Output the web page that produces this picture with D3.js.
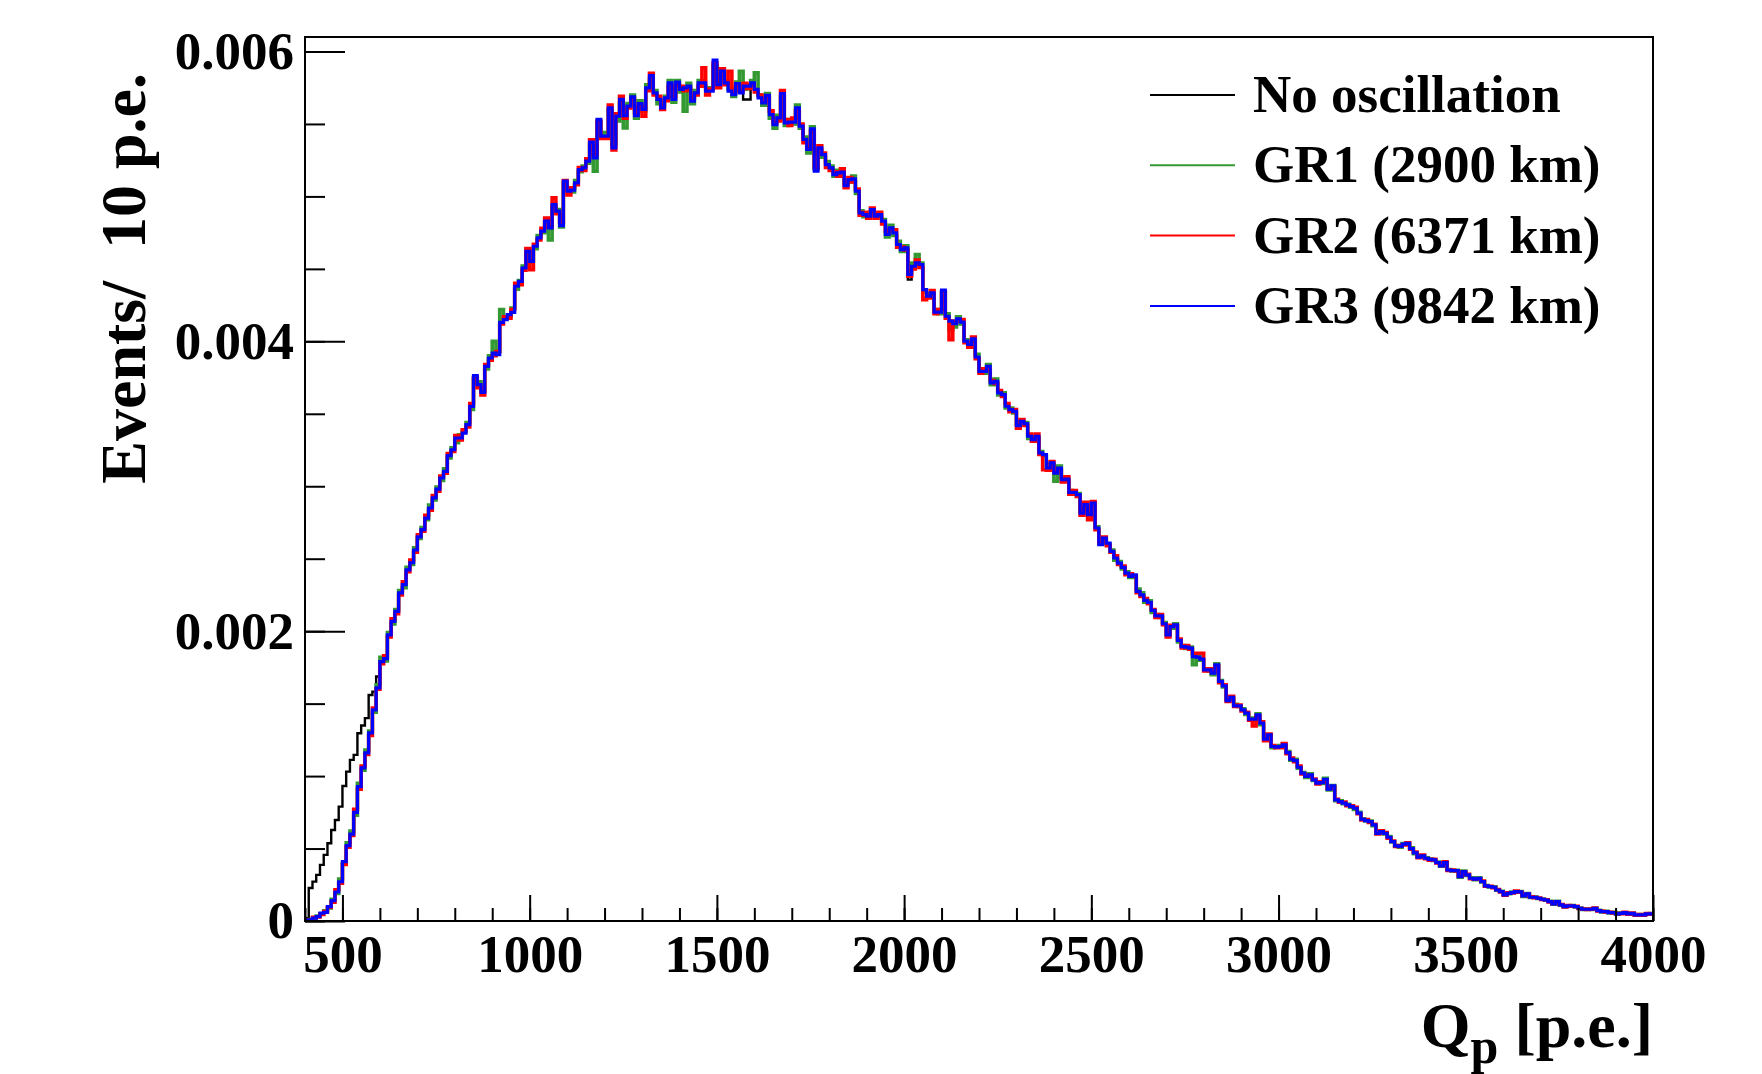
<!DOCTYPE html>
<html>
<head>
<meta charset="utf-8">
<script src="https://cdn.jsdelivr.net/npm/d3@7"></script>
<style>
  body { margin: 0; background: #fff; }
  text { font-family: "Liberation Serif", "Times New Roman", serif; font-weight: bold; fill: #000; }
</style>
</head>
<body>
<div id="chart"></div>
<script>
// histogram binning: 360 bins of 10 p.e. from 400 to 4000
const binLow = 400;
const binWidth = 10;
// bin contents in units of 1e-6 events / 10 p.e.
const unit = 1e-6;

const noOsc = [
  20,228,272,318,387,456,536,628,697,789,932,1031,1112,1146,1296,1349,1400,1560,1583,1687,
  1795,1815,1980,2060,2140,2270,2315,2430,2465,2565,2645,2710,2775,2860,2915,2985,3050,3110,3205,3258,
  3340,3325,3375,3420,3545,3755,3710,3655,3820,3880,3915,3915,4125,4160,4180,4210,4375,4420,4500,4615,
  4545,4660,4720,4755,4835,4775,4950,4890,4805,5100,5040,5050,5085,5190,5190,5250,5365,5275,5525,5420,
  5420,5605,5340,5545,5660,5550,5630,5680,5565,5645,5605,5740,5825,5720,5660,5620,5685,5775,5675,5780,
  5745,5740,5755,5665,5710,5775,5780,5720,5735,5930,5765,5860,5790,5730,5700,5770,5720,5669,5669,5775,
  5730,5690,5650,5690,5560,5500,5530,5700,5515,5505,5500,5600,5490,5400,5320,5460,5180,5330,5280,5215,
  5190,5150,5160,5160,5080,5110,5120,5030,4880,4870,4860,4900,4860,4870,4820,4740,4775,4740,4660,4625,
  4640,4426,4510,4530,4520,4350,4305,4330,4195,4195,4345,4170,4130,4115,4150,4125,3995,3960,4010,3885,
  3790,3785,3825,3705,3720,3640,3630,3545,3520,3515,3410,3445,3425,3340,3315,3340,3225,3210,3120,3155,
  3085,3120,3040,3045,2950,2955,2935,2810,2865,2800,2880,2705,2600,2640,2600,2545,2500,2465,2435,2395,
  2375,2385,2270,2245,2205,2195,2140,2100,2100,2050,1970,2030,2040,1930,1890,1885,1880,1820,1815,1800,
  1730,1735,1705,1765,1650,1620,1520,1540,1488,1483,1455,1430,1390,1390,1420,1360,1250,1282,1200,1198,
  1200,1212,1160,1112,1105,1060,1018,995,1005,972,950,953,975,907,930,833,822,811,799,788,
  775,745,700,695,684,662,604,615,604,576,547,517,515,528,534,499,471,441,449,432,
  424,421,402,381,404,351,347,348,305,340,317,294,289,294,272,241,236,232,214,202,
  181,190,197,202,200,172,186,165,163,156,150,144,133,119,133,112,98,104,104,98,
  88,81,81,81,88,72,65,65,58,58,49,53,58,49,53,42,42,42,49,49
];

const gr1 = [
  3,10,18,35,50,70,90,150,190,290,400,540,620,730,950,1040,1180,1310,1440,1630,
  1820,1795,1990,2050,2150,2280,2300,2440,2460,2575,2640,2715,2770,2870,2905,2995,3040,3120,3195,3265,
  3300,3355,3380,3440,3530,3740,3720,3660,3810,3900,4000,3930,4220,4160,4170,4230,4360,4420,4520,4600,
  4560,4640,4730,4750,4820,4700,4930,4910,4790,5090,5050,5030,5110,5170,5210,5230,5360,5174,5510,5440,
  5430,5600,5360,5520,5640,5473,5640,5700,5540,5660,5590,5770,5810,5730,5640,5630,5690,5800,5650,5800,
  5720,5588,5780,5640,5730,5800,5760,5740,5750,5900,5790,5850,5800,5740,5690,5790,5864,5740,5770,5800,
  5853,5700,5630,5710,5540,5470,5560,5690,5490,5530,5500,5630,5470,5410,5300,5480,5190,5320,5270,5240,
  5210,5140,5180,5150,5090,5100,5140,5020,4900,4860,4880,4890,4880,4860,4840,4720,4800,4730,4690,4620,
  4660,4480,4540,4599,4540,4340,4330,4320,4220,4190,4340,4190,4081,4100,4170,4120,4010,3990,4000,3910,
  3810,3780,3840,3700,3740,3630,3645,3540,3540,3505,3430,3440,3440,3330,3340,3330,3240,3210,3140,3150,
  3034,3140,3060,3040,2970,2945,2950,2830,2860,2810,2870,2720,2610,2630,2600,2560,2490,2480,2430,2410,
  2370,2380,2290,2265,2200,2210,2130,2115,2095,2060,1980,2020,2050,1925,1900,1880,1890,1768,1830,1800,
  1740,1725,1700,1775,1660,1615,1530,1535,1495,1480,1465,1425,1400,1385,1430,1355,1260,1280,1195,1205,
  1210,1205,1170,1110,1115,1055,1025,990,1015,970,955,950,985,905,935,830,830,810,805,785,
  770,750,705,690,690,658,610,612,600,582,545,520,510,535,530,505,465,445,445,436,
  428,418,406,378,400,355,345,350,303,344,314,298,285,298,270,245,235,236,212,205,
  183,188,199,200,203,170,190,162,166,155,152,143,136,116,136,109,101,102,106,97,
  90,79,83,79,86,74,63,67,56,60,47,55,56,51,51,44,40,44,47,51
];

const gr2 = [
  4,6,25,28,45,65,95,130,215,260,390,510,590,770,910,1070,1150,1280,1470,1600,
  1775,1830,1960,2085,2120,2250,2340,2410,2490,2545,2665,2690,2800,2835,2935,2965,3070,3090,3225,3240,
  3350,3320,3390,3410,3570,3750,3680,3630,3840,3870,3900,3930,4120,4170,4160,4220,4400,4390,4490,4640,
  4495,4670,4700,4780,4850,4790,4990,4880,4820,5110,5010,5060,5080,5200,5180,5260,5390,5290,5520,5400,
  5400,5630,5320,5570,5690,5540,5610,5670,5580,5620,5554,5730,5850,5700,5690,5600,5660,5760,5690,5770,
  5760,5730,5740,5680,5700,5760,5887,5700,5740,5920,5750,5880,5770,5864,5720,5760,5730,5780,5745,5770,
  5720,5700,5660,5680,5590,5510,5520,5730,5530,5490,5540,5590,5500,5370,5340,5450,5200,5350,5300,5200,
  5180,5170,5140,5190,5060,5130,5100,5050,4870,4890,4850,4920,4850,4890,4810,4760,4770,4770,4650,4650,
  4630,4450,4500,4560,4510,4288,4300,4350,4190,4220,4340,4160,4012,4140,4140,4150,3990,3960,4030,3880,
  3780,3810,3810,3730,3710,3660,3620,3570,3515,3530,3400,3460,3420,3360,3310,3360,3220,3114,3110,3170,
  3100,3110,3030,3065,2945,2970,2930,2800,2890,2769,2895,2700,2610,2650,2590,2545,2520,2460,2450,2390,
  2395,2380,2265,2240,2225,2190,2150,2095,2115,2045,1960,2040,2035,1945,1885,1900,1875,1848,1848,1848,
  1725,1740,1720,1760,1645,1630,1515,1550,1480,1490,1450,1440,1385,1346,1415,1375,1245,1290,1210,1195,
  1195,1225,1155,1125,1100,1070,1015,1005,1000,980,945,960,970,915,925,840,820,820,795,795,
  785,740,698,700,680,668,600,622,610,572,552,514,520,525,540,495,475,436,455,430,
  420,426,400,383,408,349,352,345,309,338,322,292,291,292,275,240,240,230,217,200,
  178,194,193,206,198,176,184,167,161,159,148,147,131,121,131,114,97,106,102,101,
  86,83,79,83,90,70,67,63,60,56,51,51,60,47,55,40,44,40,51,47
];

const gr3 = [
  5,8,20,30,55,60,99,140,200,271,410,520,600,750,927,1056,1160,1298,1457,1609,
  1790,1810,1975,2067,2136,2264,2321,2423,2472,2560,2650,2700,2780,2850,2920,2980,3057,3103,3211,3252,
  3333,3333,3367,3425,3551,3763,3701,3648,3827,3885,3919,3908,4131,4150,4184,4200,4380,4414,4506,4621,
  4552,4656,4714,4760,4829,4783,4944,4898,4799,5105,5036,5043,5093,5185,5197,5243,5374,5266,5531,5416,
  5416,5611,5335,5554,5669,5558,5623,5687,5558,5641,5600,5749,5834,5715,5669,5611,5680,5784,5669,5788,
  5738,5749,5761,5657,5715,5784,5784,5726,5726,5940,5772,5864,5784,5726,5703,5779,5715,5761,5761,5784,
  5738,5680,5646,5697,5565,5496,5542,5710,5508,5512,5512,5611,5485,5393,5324,5466,5174,5335,5289,5220,
  5197,5151,5162,5167,5075,5116,5121,5036,4886,4875,4863,4909,4863,4875,4829,4737,4783,4749,4668,4633,
  4645,4461,4518,4541,4530,4357,4311,4334,4201,4201,4353,4173,4139,4122,4155,4132,4001,3978,4017,3892,
  3793,3793,3828,3713,3724,3644,3632,3552,3529,3517,3418,3448,3432,3345,3322,3345,3230,3218,3126,3161,
  3091,3126,3045,3050,2958,2958,2942,2815,2873,2804,2884,2712,2597,2643,2608,2551,2505,2470,2440,2400,
  2378,2389,2274,2251,2212,2198,2143,2106,2106,2051,1975,2032,2044,1936,1894,1890,1883,1825,1821,1807,
  1733,1733,1710,1768,1653,1623,1521,1544,1485,1485,1457,1434,1393,1393,1423,1365,1254,1284,1204,1199,
  1204,1215,1162,1116,1107,1061,1020,997,1008,974,951,955,978,909,932,836,824,813,801,790,
  778,744,702,693,686,663,605,617,605,578,548,518,514,530,535,500,470,440,450,433,
  425,422,403,380,403,352,348,348,306,341,318,295,288,295,272,242,237,233,214,203,
  180,191,196,203,201,173,187,164,164,157,150,145,134,118,134,111,99,104,104,99,
  88,81,81,81,88,72,65,65,58,58,49,53,58,49,53,42,42,42,49,49
];

const seriesNames = ["No oscillation", "GR1 (2900 km)", "GR2 (6371 km)", "GR3 (9842 km)"];
const xTicks = [500, 1000, 1500, 2000, 2500, 3000, 3500, 4000];
const xTickLabels = ["500", "1000", "1500", "2000", "2500", "3000", "3500", "4000"];
const yTicks = [0, 0.002, 0.004, 0.006];
const yTickLabels = ["0", "0.002", "0.004", "0.006"];

const colors = ["#000000", "#339933", "#ff0000", "#0000ff"];
const widths = [2.4, 3.6, 3.6, 3.2];

const width = 1762, height = 1074;
const frame = { left: 305, right: 1653, top: 37, bottom: 921 };

const svg = d3.select("#chart").append("svg")
  .attr("width", width)
  .attr("height", height);

const x = d3.scaleLinear().domain([400, 4000]).range([frame.left, frame.right]);
const y = d3.scaleLinear().domain([0, 0.0061]).range([frame.bottom, frame.top]);

svg.append("clipPath").attr("id", "clip")
  .append("rect")
  .attr("x", frame.left).attr("y", frame.top)
  .attr("width", frame.right - frame.left).attr("height", frame.bottom - frame.top);

function toSteps(vals) {
  const pts = vals.map((v, i) => [binLow + i * binWidth, v * unit]);
  pts.push([binLow + vals.length * binWidth, vals[vals.length - 1] * unit]);
  return pts;
}

const line = d3.line()
  .x(d => x(d[0]))
  .y(d => y(d[1]))
  .curve(d3.curveStepAfter);

const hists = [noOsc, gr1, gr2, gr3];
const plot = svg.append("g").attr("clip-path", "url(#clip)");
hists.forEach((h, k) => {
  plot.append("path")
    .attr("d", line(toSteps(h)))
    .attr("fill", "none")
    .attr("stroke", colors[k])
    .attr("stroke-width", widths[k])
    .attr("stroke-linejoin", "miter");
});

// frame
svg.append("rect")
  .attr("x", frame.left).attr("y", frame.top)
  .attr("width", frame.right - frame.left).attr("height", frame.bottom - frame.top)
  .attr("fill", "none").attr("stroke", "#000").attr("stroke-width", 2);

function styleAxis(g) {
  g.select(".domain").remove();
  g.selectAll(".tick line").attr("stroke", "#000").attr("stroke-width", 2);
  g.selectAll(".tick text").attr("font-size", 53).attr("fill", "#000");
}

// x axis: minor ticks every 100, major at labels
svg.append("g")
  .attr("transform", `translate(0,${frame.bottom})`)
  .call(d3.axisBottom(x).tickValues(d3.range(400, 4001, 100)).tickSize(-13).tickFormat(""))
  .call(styleAxis);
svg.append("g")
  .attr("transform", `translate(0,${frame.bottom})`)
  .call(d3.axisBottom(x).tickValues(xTicks).tickSize(-26).tickPadding(13)
    .tickFormat((d, i) => xTickLabels[i]))
  .call(styleAxis);

// y axis: minor ticks every 0.0005, major at labels
svg.append("g")
  .attr("transform", `translate(${frame.left},0)`)
  .call(d3.axisLeft(y).tickValues(d3.range(0, 0.00601, 0.0005)).tickSize(-20).tickFormat(""))
  .call(styleAxis);
svg.append("g")
  .attr("transform", `translate(${frame.left},0)`)
  .call(d3.axisLeft(y).tickValues(yTicks).tickSize(-40).tickPadding(11)
    .tickFormat((d, i) => yTickLabels[i]))
  .call(styleAxis);

// axis titles
svg.append("text")
  .attr("transform", "translate(145,73) rotate(-90)")
  .attr("text-anchor", "end")
  .attr("font-size", 64)
  .text("Events/  10 p.e.")
  .style("white-space", "pre");

const xt = svg.append("text")
  .attr("x", frame.right).attr("y", 1047)
  .attr("text-anchor", "end")
  .attr("font-size", 64)
  .style("white-space", "pre");
xt.append("tspan").text("Q");
xt.append("tspan").attr("font-size", 50).attr("dy", 16).text("p");
xt.append("tspan").attr("dy", -16).text(" [p.e.]");

// legend
const legend = svg.append("g");
seriesNames.forEach((name, k) => {
  const ly = 95 + k * 70.3;
  legend.append("line")
    .attr("x1", 1150).attr("x2", 1235)
    .attr("y1", ly).attr("y2", ly)
    .attr("stroke", colors[k]).attr("stroke-width", 2);
  legend.append("text")
    .attr("x", 1253).attr("y", ly + 17)
    .attr("font-size", 53)
    .text(name);
});
</script>
</body>
</html>
